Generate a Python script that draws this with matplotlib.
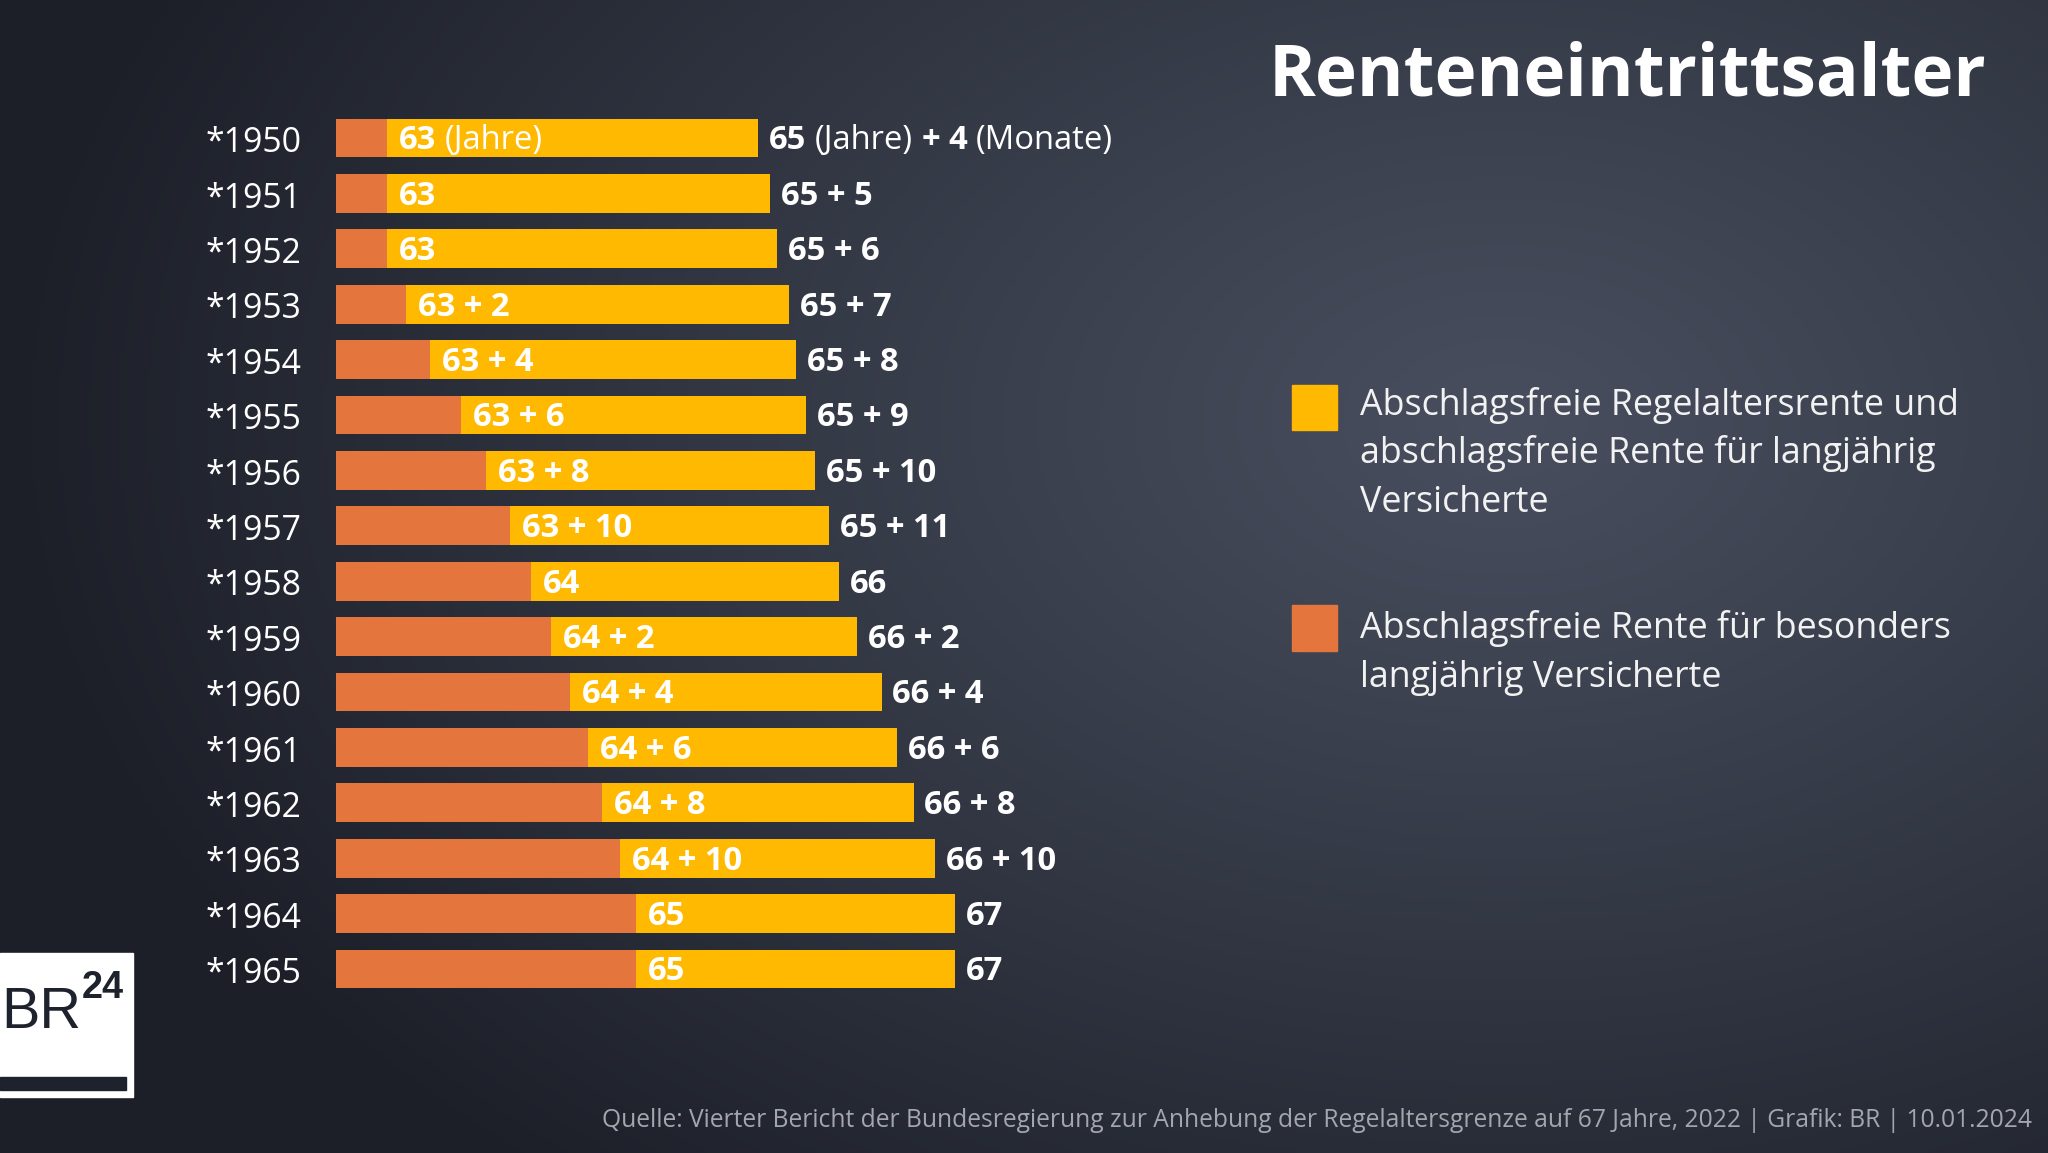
import re
import numpy as np
import matplotlib
matplotlib.use("Agg")
import matplotlib.pyplot as plt
from matplotlib.patches import Rectangle
from matplotlib.transforms import IdentityTransform

W, H, DPI = 2048, 1153, 100

# --- data -------------------------------------------------------------
years = ["*1950", "*1951", "*1952", "*1953", "*1954", "*1955", "*1956", "*1957",
         "*1958", "*1959", "*1960", "*1961", "*1962", "*1963", "*1964", "*1965"]
orange_labels = ["63 (Jahre)", "63", "63", "63 + 2", "63 + 4", "63 + 6", "63 + 8", "63 + 10",
                 "64", "64 + 2", "64 + 4", "64 + 6", "64 + 8", "64 + 10", "65", "65"]
yellow_labels = ["65 (Jahre) + 4 (Monate)", "65 + 5", "65 + 6", "65 + 7", "65 + 8", "65 + 9",
                 "65 + 10", "65 + 11", "66", "66 + 2", "66 + 4", "66 + 6", "66 + 8",
                 "66 + 10", "67", "67"]
# bar lengths as drawn in the graphic (the original is not on a linear age scale)
orange_len = [51, 51, 51, 70.5, 94, 125.5, 150.5, 174, 195.5, 215.5, 234.5, 252.5,
              266, 284, 300.5, 300.5]
total_len = [422, 434.5, 441.5, 453.5, 460.5, 470.5, 479.5, 493, 503, 521.5, 546,
             561.5, 578, 599, 619, 619]

legend_yellow = ["Abschlagsfreie Regelaltersrente und",
                 "abschlagsfreie Rente für langjährig",
                 "Versicherte"]
legend_orange = ["Abschlagsfreie Rente für besonders",
                 "langjährig Versicherte"]
title = "Renteneintrittsalter"
source = ("Quelle: Vierter Bericht der Bundesregierung zur Anhebung der Regelaltersgrenze "
          "auf 67 Jahre, 2022 | Grafik: BR | 10.01.2024")

ORANGE = "#E4753C"
YELLOW = "#FFB900"
FAM = ["Liberation Sans Narrow", "Open Sans", "DejaVu Sans"]
LOGO_FAM = ["Liberation Sans", "DejaVu Sans"]

fig = plt.figure(figsize=(W / DPI, H / DPI), dpi=DPI)
renderer = fig.canvas.get_renderer()


def fx(x):
    return x / W


def fy(y):
    # y measured from the top of the picture
    return 1 - y / H


# background gradient
bg = fig.add_axes([0, 0, 1, 1], zorder=-10)
gy, gx = np.mgrid[0:H:4, 0:W:4]
d = np.sqrt(((gx - 1500) / 1500.0) ** 2 + ((gy - 420) / 1000.0) ** 2)
t = np.clip(d, 0, 1)[..., None] ** 1.1
c_in = np.array([72, 78, 94]) / 255
c_out = np.array([28, 31, 40]) / 255
bg.imshow(c_in * (1 - t) + c_out * t, aspect="auto", extent=[0, 1, 0, 1])
bg.axis("off")


def fit_size(txt, weight, target, family=FAM, base=30):
    tt = fig.text(0, 0, txt, fontsize=base, fontweight=weight, family=family)
    w = tt.get_window_extent(renderer).width
    tt.remove()
    return base * target / w


def px_text(x, y, s, **kw):
    # x, y in display pixels (origin bottom-left)
    return fig.text(x, y, s, transform=IdentityTransform(), **kw)


def draw_pieces(x, y, label, size, color="white"):
    # numbers bold, words in brackets regular
    parts = [p.strip() for p in re.split(r"(\([^)]*\))", label) if p.strip()]
    gap = 0.27 * size * DPI / 72
    for p in parts:
        weight = "normal" if p.startswith("(") else "bold"
        tt = px_text(x, y, p, fontsize=size, fontweight=weight, family=FAM,
                     color=color, va="baseline", ha="left")
        x = tt.get_window_extent(renderer).x1 + gap


# --- bars ---------------------------------------------------------------
top, bottom = 110.3, 996.7
ax = fig.add_axes([fx(335.5), fy(bottom), 1000 / W, (bottom - top) / H])
ax.set_xlim(0, 1000)
ax.set_ylim(len(years) - 0.5, -0.5)
ax.axis("off")

rows = np.arange(len(years))
ax.barh(rows, orange_len, height=0.7, color=ORANGE, linewidth=0)
ax.barh(rows, np.array(total_len) - np.array(orange_len), left=orange_len,
        height=0.7, color=YELLOW, linewidth=0)

size_year = fit_size("*1950", "normal", 96)
size_lab = fit_size("63 + 2", "bold", 92)
cap_year = 0.72 * size_year * DPI / 72
cap_lab = 0.70 * size_lab * DPI / 72

for i in rows:
    xo, cy = ax.transData.transform((orange_len[i], i))
    xt, _ = ax.transData.transform((total_len[i], i))
    px_text(206, cy - 2 - cap_year / 2, years[i], fontsize=size_year,
            family=FAM, color="white", va="baseline")
    draw_pieces(xo + 12, cy - cap_lab / 2, orange_labels[i], size_lab)
    draw_pieces(xt + 11, cy - cap_lab / 2, yellow_labels[i], size_lab)

# --- title --------------------------------------------------------------
size_title = fit_size(title, "bold", 718)
px_text(1986, H - 95, title, fontsize=size_title, fontweight="bold",
        family=FAM, color="white", ha="right", va="baseline")

# --- legend -------------------------------------------------------------
size_leg = fit_size(legend_yellow[0], "normal", 599)
fig.patches.append(Rectangle((fx(1292), fy(430)), 45 / W, 45 / H,
                             transform=fig.transFigure, color=YELLOW))
fig.patches.append(Rectangle((fx(1292), fy(651)), 45 / W, 46 / H,
                             transform=fig.transFigure, color=ORANGE))
for k, line in enumerate(legend_yellow):
    px_text(1360, H - (415 + 48.5 * k), line, fontsize=size_leg, family=FAM,
            color="#F2F2F2", va="baseline")
for k, line in enumerate(legend_orange):
    px_text(1360, H - (638 + 48.5 * k), line, fontsize=size_leg, family=FAM,
            color="#F2F2F2", va="baseline")

# --- source -------------------------------------------------------------
size_src = fit_size(source, "normal", 1430)
px_text(2032, H - 1127, source, fontsize=size_src, family=FAM,
        color="#A3A6AE", ha="right", va="baseline")

# --- BR24 logo ----------------------------------------------------------
fig.patches.append(Rectangle((0, fy(1097)), 133 / W, 144 / H,
                             transform=fig.transFigure, color="white"))
fig.patches.append(Rectangle((0, fy(1090)), 126 / W, 13 / H,
                             transform=fig.transFigure, color="#1E222C"))
size_br = fit_size("BR", "normal", 80, family=LOGO_FAM)
px_text(1, H - 1028, "BR", fontsize=size_br, family=LOGO_FAM,
        color="#1E222C", va="baseline")
size_24 = fit_size("24", "bold", 42, family=LOGO_FAM)
px_text(82, H - 998, "24", fontsize=size_24, fontweight="bold",
        family=LOGO_FAM, color="#1E222C", va="baseline")

fig.savefig("out.png", dpi=DPI)
